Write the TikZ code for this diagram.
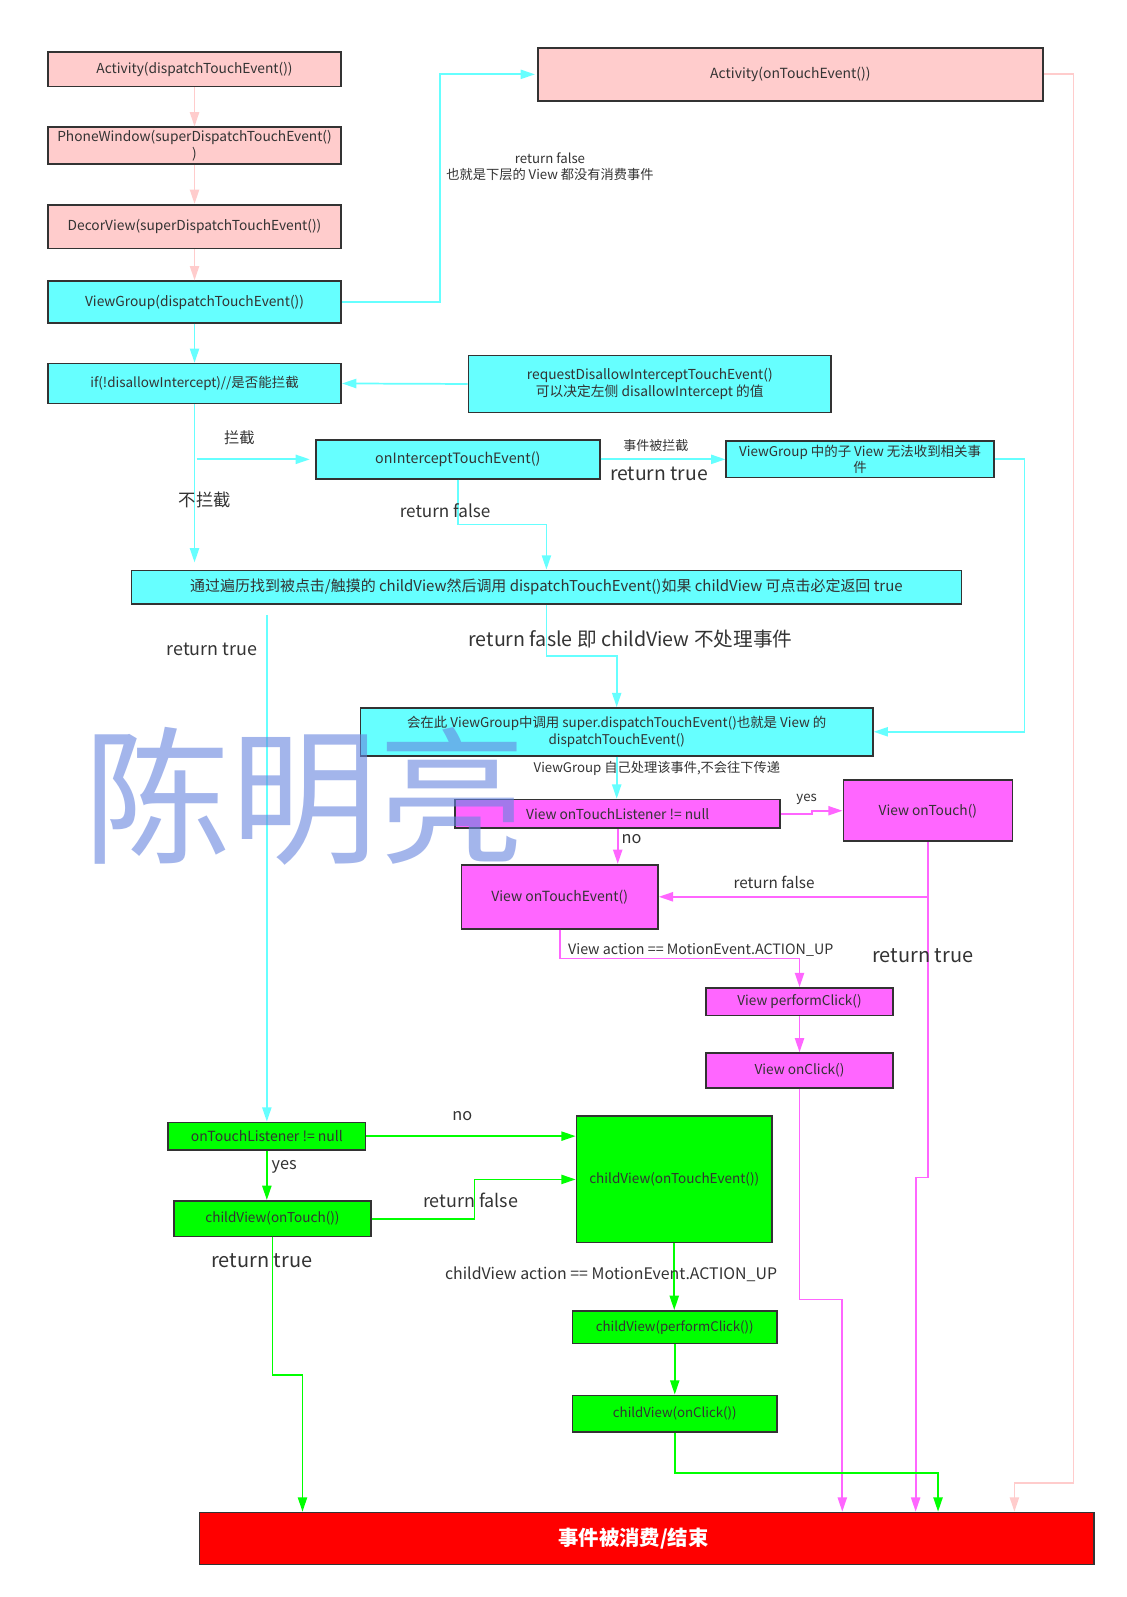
\documentclass[tikz,border=0pt]{standalone}
\usepackage{fontspec}
\setmainfont{Noto Sans CJK SC}
\usetikzlibrary{arrows.meta,calc}
\definecolor{pkf}{HTML}{FFCCCC}
\definecolor{cyf}{HTML}{66FFFF}
\definecolor{mgf}{HTML}{FF66FF}
\definecolor{grf}{HTML}{00FF00}
\definecolor{rdf}{HTML}{FF0000}
\definecolor{bdr}{HTML}{333333}
\definecolor{txt}{HTML}{333333}
\definecolor{wmc}{RGB}{102,132,223}
\newcommand\fz[1]{\fontsize{#1}{16}\selectfont}
\tikzset{
  box/.style={draw=bdr, line width=1.6pt, inner sep=0pt, align=center, text=txt, font=\fz{13.5}},
  pkbox/.style={box, fill=pkf},
  cybox/.style={box, fill=cyf},
  mgbox/.style={box, fill=mgf},
  grbox/.style={box, fill=grf},
  conn/.style={line width=1.7pt, -{Triangle[length=14pt,width=9pt]}},
  pkl/.style={conn, draw=pkf},
  cyl/.style={conn, draw=cyf},
  mgl/.style={conn, draw=mgf},
  grl/.style={conn, draw=grf},
  lbl/.style={text=txt, inner sep=0pt, align=center},
}
\begin{document}
\begin{tikzpicture}[x=1pt,y=1pt]
\useasboundingbox (0,0) rectangle (1106,-1568);
\fill[white] (0,0) rectangle (1106,-1568);

% ---------- nodes ----------
\node[pkbox, minimum width=288pt, minimum height=34pt] (a1) at (191,-68) {Activity(dispatchTouchEvent())};
\node[pkbox, minimum width=288pt, minimum height=36pt] (pw) at (191,-143) {PhoneWindow(superDispatchTouchEvent()\\)};
\node[pkbox, minimum width=288pt, minimum height=43pt] (dv) at (191,-222.5) {DecorView(superDispatchTouchEvent())};
\node[cybox, minimum width=288pt, minimum height=41pt] (vg) at (191,-296.5) {ViewGroup(dispatchTouchEvent())};
\node[cybox, minimum width=288pt, minimum height=39pt, font=\fz{13.2}] (ifd) at (191,-376.5) {if(!disallowIntercept)//是否能拦截};
\node[cybox, minimum width=356pt, minimum height=56pt] (req) at (638,-377) {requestDisallowInterceptTouchEvent()\\可以决定左侧 disallowIntercept 的值};
\node[cybox, minimum width=279pt, minimum height=38pt, font=\fz{14}] (oit) at (449.5,-451) {onInterceptTouchEvent()};
\node[cybox, minimum width=263pt, minimum height=36pt, font=\fz{13.2}] (vgc) at (844.5,-451) {ViewGroup 中的子 View 无法收到相关事\\件};
\node[cybox, minimum width=815pt, minimum height=33pt, font=\fz{14.7}] (trav) at (536.5,-576.5) {通过遍历找到被点击/触摸的 childView然后调用 dispatchTouchEvent()如果 childView 可点击必定返回 true};
\node[cybox, minimum width=503pt, minimum height=47pt, font=\fz{13.2}] (sup) at (605.5,-718.5) {会在此 ViewGroup中调用 super.dispatchTouchEvent()也就是 View 的\\dispatchTouchEvent()};
\node[mgbox, minimum width=319pt, minimum height=28pt] (votl) at (606.5,-799) {View onTouchListener != null};
\node[mgbox, minimum width=166pt, minimum height=60pt] (vot) at (911,-796) {View onTouch()};
\node[mgbox, minimum width=193pt, minimum height=63pt, font=\fz{13.7}] (vote) at (549.5,-880.5) {View onTouchEvent()};
\node[mgbox, minimum width=184pt, minimum height=27pt, font=\fz{13.3}] (vpc) at (785,-983.5) {View performClick()};
\node[mgbox, minimum width=184pt, minimum height=34pt, font=\fz{13.4}] (voc) at (785,-1051) {View onClick()};
\node[grbox, minimum width=194pt, minimum height=27pt, font=\fz{13.7}] (gotl) at (262,-1115.5) {onTouchListener != null};
\node[grbox, minimum width=192pt, minimum height=124pt, font=\fz{13.3}] (cote) at (662,-1158) {childView(onTouchEvent())};
\node[grbox, minimum width=193pt, minimum height=35pt, font=\fz{13.3}] (cot) at (267.5,-1196.5) {childView(onTouch())};
\node[grbox, minimum width=201pt, minimum height=32pt, font=\fz{13}] (cpc) at (662.5,-1303) {childView(performClick())};
\node[grbox, minimum width=201pt, minimum height=36pt, font=\fz{13}] (coc) at (662.5,-1388) {childView(onClick())};
\node[box, fill=rdf, text=white, minimum width=878pt, minimum height=51pt, font=\fz{20}\bfseries] (endb) at (635,-1510.5) {事件被消费/结束\hspace*{26pt}};
\node[pkbox, minimum width=496pt, minimum height=52pt, font=\fz{13.7}] (aote) at (776,-73) {Activity(onTouchEvent())};

% helper x positions
\coordinate (xpk) at (996,0);
\coordinate (xg1) at (297,0);
\coordinate (xm1) at (827,0);
\coordinate (xm2) at (899,0);
\coordinate (xg2) at (921,0);

% ---------- connectors ----------
\draw[pkl] (a1) -- (pw);
\draw[pkl] (pw) -- (dv);
\draw[pkl] (dv) -- (vg);
\draw[cyl] (vg) -- (ifd);
\draw[cyl, shorten >=2pt] (vg.east) -- (432,-296.5) |- (aote.west);
\draw[pkl] (aote.east) -- (1054,-73) -- (1054,-1456) -- (996,-1456) -- (xpk |- endb.north);
\draw[cyl] (req.west) -- (ifd.east);
\draw[cyl, shorten >=7pt] (ifd.south) -- (ifd.south |- trav.north);
\draw[cyl, shorten >=5pt] ($(ifd.south |- oit.west)+(2,0)$) -- (oit.west);
\draw[cyl] (oit.east) -- (vgc.west);
\draw[cyl] (oit.south) -- (449.5,-515) -| (trav.north);
\draw[cyl] (vgc.east) -- (1006,-451) |- (sup.east);
\draw[cyl] (trav.south) -- (536.5,-644) -| (sup.north);
\draw[cyl] ([yshift=-10pt]trav.south -| gotl.north) -- (gotl.north);
\draw[cyl] (sup.south) -- (sup.south |- votl.north);
\draw[mgl] (votl.east) -- (797,-799) -- (797,-796) -- (vot.west);
\draw[mgl] (votl.south) -- (votl.south |- vote.north);
\draw[mgl] (vot.south |- vote.east) -- (vote.east);
\draw[mgl] (vot.south) -- (911,-1156) -- (899,-1156) -- (xm2 |- endb.north);
\draw[mgl] (vote.south) -- (549.5,-941) -| (vpc.north);
\draw[mgl] (vpc) -- (voc);
\draw[mgl] (voc.south) -- (785,-1276) -- (827,-1276) -- (xm1 |- endb.north);
\draw[grl] (gotl.east) -- (gotl.east -| cote.west);
\draw[grl] (gotl.south) -- (gotl.south |- cot.north);
\draw[grl] (cot.east) -- (466,-1196.5) |- (cote.west);
\draw[grl] (cot.south) -- (267.5,-1350) -- (297,-1350) -- (xg1 |- endb.north);
\draw[grl] (cote.south) -- (cote.south |- cpc.north);
\draw[grl] (cpc) -- (coc);
\draw[grl] (coc.south) -- (662.5,-1446) -- (921,-1446) -- (xg2 |- endb.north);

% ---------- labels ----------
\node[lbl, font=\fz{13}] (l1) at (540,-164) {return false\\也就是下层的 View 都没有消费事件};
\node[lbl, font=\fz{15}] (l2) at (235,-430) {拦截};
\node[lbl, font=\fz{17}] (l3) at (201,-491) {不拦截};
\node[lbl, font=\fz{12.8}] (l4) at (644,-437) {事件被拦截};
\node[lbl, font=\fz{19}] (l5) at (647,-465) {return true};
\node[lbl, font=\fz{16.8}] (l6) at (437,-501) {return false};
\node[lbl, font=\fz{19.3}] (l7) at (619,-627) {return fasle 即 childView 不处理事件};
\node[lbl, font=\fz{17.6}] (l8) at (208,-638) {return true};
\node[lbl, font=\fz{13}] (l9) at (645,-754) {ViewGroup 自己处理该事件,不会往下传递};
\node[lbl, font=\fz{13}] (l10) at (792,-785) {yes};
\node[lbl, font=\fz{16}] (l11) at (620,-824) {no};
\node[lbl, font=\fz{15}] (l12) at (760,-866) {return false};
\node[lbl, font=\fz{19.6}] (l13) at (906,-938) {return true};
\node[lbl, font=\fz{14}] (l14) at (688,-933) {View action == MotionEvent.ACTION\_UP};
\node[lbl, font=\fz{16}] (l15) at (454,-1096) {no};
\node[lbl, font=\fz{16}] (l16) at (279,-1146) {yes};
\node[lbl, font=\fz{17.6}] (l17) at (462,-1179) {return false};
\node[lbl, font=\fz{19.6}] (l18) at (257,-1238) {return true};
\node[lbl, font=\fz{15.6}] (l19) at (600,-1251) {childView action == MotionEvent.ACTION\_UP};

% ---------- watermark ----------
\node[inner sep=0pt, text=wmc, text opacity=0.6, font=\fontsize{145}{150}\selectfont] (wm) at (299,-782) {陈明亮};
\end{tikzpicture}
\end{document}
